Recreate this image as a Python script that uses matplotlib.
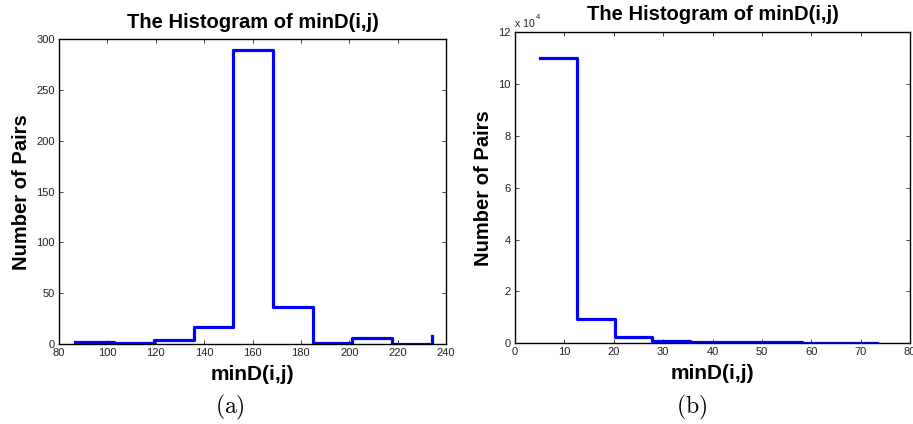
import matplotlib
matplotlib.use("Agg")
import matplotlib.pyplot as plt
import numpy as np

plt.rcParams['font.family'] = ['Liberation Sans', 'DejaVu Sans']
plt.rcParams['mathtext.fontset'] = 'cm'

# Panel (a)
a_x = [86.5, 102.9, 119.3, 135.7, 152.1, 168.5, 184.9, 201.3, 217.7, 234.1]
a_counts = [2, 1, 4, 17, 289, 36, 1, 6, 0, 8]
a_xticks = [80, 100, 120, 140, 160, 180, 200, 220, 240]
a_yticks = [0, 50, 100, 150, 200, 250, 300]

# Panel (b)
b_x = [5.0, 12.6, 20.2, 27.8, 35.4, 43.0, 50.6, 58.2, 65.8, 73.4]
b_counts = [110000, 9200, 2500, 900, 500, 450, 400, 250, 150, 100]
b_xticks = [0, 10, 20, 30, 40, 50, 60, 70, 80]
b_yticks = [0, 20000, 40000, 60000, 80000, 100000, 120000]
b_yticklabels = ['0', '2', '4', '6', '8', '10', '12']

title = "The Histogram of minD(i,j)"
xlabel = "minD(i,j)"
ylabel = "Number of Pairs"

fig = plt.figure(figsize=(9.13, 4.24), dpi=100)
W, H = 913, 424

def ax_at(l, t, r, b):
    return fig.add_axes([l / W, 1 - b / H, (r - l) / W, (b - t) / H])

axA = ax_at(59, 39.3, 446, 344)
axB = ax_at(515, 32.3, 910, 343.3)

for ax in (axA, axB):
    ax.tick_params(direction='in', top=True, right=True, labelsize=8,
                   length=3, width=0.6, pad=3, colors='#222222')
    for s in ax.spines.values():
        s.set_linewidth(1.0)
    ax.set_xlabel(xlabel, fontsize=15, fontweight='bold', labelpad=5)
    ax.set_ylabel(ylabel, fontsize=14.5, fontweight='bold', labelpad=4)

axA.step(a_x, a_counts, where='post', color='#0000ff', lw=2.3)
axA.set_xlim(80, 240)
axA.set_ylim(0, 300)
axA.set_xticks(a_xticks)
axA.set_yticks(a_yticks)
axA.set_title(title, fontsize=14.5, fontweight='bold', pad=8)

axB.step(b_x, b_counts, where='post', color='#0000ff', lw=2.3)
axB.set_xlim(0, 80)
axB.set_ylim(0, 120000)
axB.set_xticks(b_xticks)
axB.set_yticks(b_yticks)
axB.set_yticklabels(b_yticklabels)
axB.set_title(title, fontsize=14.5, fontweight='bold', pad=9)
axB.text(0.0, 1.01, 'x 10', transform=axB.transAxes, fontsize=7.5,
         ha='left', va='bottom', color='#222222')
axB.text(0.052, 1.035, '4', transform=axB.transAxes, fontsize=5.5,
         ha='left', va='bottom', color='#222222')

fig.text(230 / W, 1 - 407 / H, r'$\mathrm{(a)}$', fontsize=17, ha='center', va='center')
fig.text(692 / W, 1 - 407 / H, r'$\mathrm{(b)}$', fontsize=17, ha='center', va='center')

fig.savefig('out.png', dpi=100)
